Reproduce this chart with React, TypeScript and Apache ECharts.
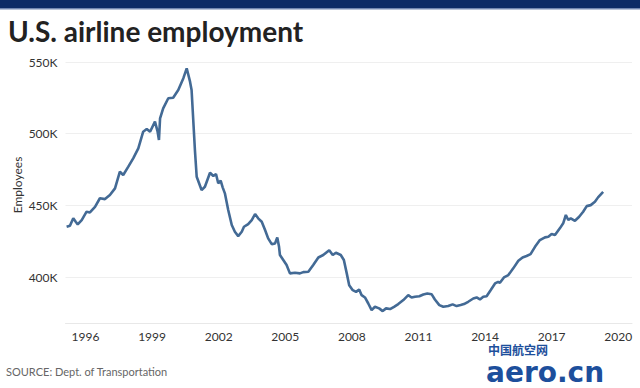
import React, { useEffect, useRef } from "react";
import * as echarts from "echarts";

const years: number[] = [
  1995.15, 1995.3, 1995.45, 1995.56, 1995.65, 1995.83, 1996.05, 1996.2, 1996.43, 1996.65,
  1996.88, 1997.1, 1997.33, 1997.55, 1997.7, 1997.93, 1998.15, 1998.38, 1998.6, 1998.76,
  1998.91, 1999.13, 1999.25, 1999.31, 1999.36, 1999.5, 1999.73, 1999.95, 2000.18, 2000.41,
  2000.56, 2000.71, 2000.78, 2000.93, 2001.01, 2001.23, 2001.38, 2001.61, 2001.76, 2001.88,
  2001.98, 2002.09, 2002.18, 2002.28, 2002.43, 2002.59, 2002.73, 2002.88, 2003.04, 2003.14,
  2003.33, 2003.49, 2003.64, 2003.78, 2003.94, 2004.09, 2004.23, 2004.39, 2004.54, 2004.64,
  2004.72, 2004.76, 2004.91, 2005.06, 2005.21, 2005.44, 2005.66, 2005.81, 2006.04, 2006.26,
  2006.49, 2006.71, 2006.98, 2007.14, 2007.28, 2007.5, 2007.64, 2007.77, 2007.88, 2008.04,
  2008.19, 2008.33, 2008.44, 2008.59, 2008.74, 2008.89, 2009.04, 2009.23, 2009.39, 2009.54,
  2009.72, 2009.9, 2010.09, 2010.32, 2010.54, 2010.69, 2010.84, 2011.04, 2011.22, 2011.4,
  2011.59, 2011.74, 2011.94, 2012.12, 2012.34, 2012.54, 2012.72, 2012.9, 2013.05, 2013.24,
  2013.47, 2013.62, 2013.77, 2013.92, 2014.07, 2014.25, 2014.45, 2014.59, 2014.67, 2014.85,
  2015.05, 2015.27, 2015.5, 2015.69, 2015.87, 2016.05, 2016.25, 2016.47, 2016.7, 2016.85,
  2017.0, 2017.15, 2017.37, 2017.52, 2017.64, 2017.75, 2017.86, 2018.05, 2018.24, 2018.42,
  2018.58, 2018.76, 2018.95, 2019.09, 2019.32,
];

const employeesK: number[] = [
  435.1, 435.8, 441.0, 438.6, 436.8, 439.8, 445.6, 445.1, 449.0, 455.0,
  454.4, 457.2, 461.9, 473.5, 471.2, 477.0, 482.8, 489.8, 501.4, 503.3,
  501.4, 508.4, 501.4, 495.6, 510.7, 517.7, 524.7, 525.1, 530.5, 538.7,
  545.6, 536.3, 530.5, 488.6, 470.0, 460.7, 463.0, 472.8, 470.5, 471.9,
  465.4, 467.2, 462.6, 458.4, 446.8, 436.3, 431.6, 428.6, 431.6, 435.1,
  437.0, 439.8, 444.0, 441.0, 438.6, 432.8, 427.0, 423.0, 423.5, 427.7,
  421.1, 415.4, 411.9, 408.4, 402.6, 403.0, 402.6, 403.5, 403.7, 408.4,
  413.7, 415.4, 418.8, 415.4, 417.0, 415.4, 411.9, 402.6, 394.4, 390.9,
  389.7, 391.4, 387.4, 385.8, 381.6, 377.0, 379.3, 378.2, 376.3, 378.2,
  377.7, 379.3, 381.2, 384.0, 387.4, 385.8, 386.3, 386.7, 387.9, 388.6,
  388.1, 384.4, 380.5, 379.3, 379.8, 381.0, 379.8, 380.5, 381.2, 382.8,
  385.1, 385.8, 384.4, 386.3, 386.7, 390.9, 395.6, 396.7, 396.0, 399.8,
  401.4, 406.1, 411.4, 413.7, 414.7, 416.0, 421.1, 425.8, 427.7, 428.1,
  430.0, 429.3, 434.0, 437.5, 443.3, 439.8, 441.0, 439.3, 442.1, 445.6,
  449.5, 450.2, 452.5, 455.6, 459.5,
];

const yTicks: number[] = [400, 450, 500, 550];
const xTicks: number[] = [1996, 1999, 2002, 2005, 2008, 2011, 2014, 2017, 2020];

const FONT = "Lato, 'Open Sans', sans-serif";

export default function App() {
  const ref = useRef<HTMLDivElement>(null);
  useEffect(() => {
    if (!ref.current) return;
    const chart = echarts.init(ref.current, undefined, { renderer: "svg" });
    const data = years.map((y, i) => [y, employeesK[i]]);
    chart.setOption({
      animation: false,
      backgroundColor: "#ffffff",
      grid: { left: 65.5, right: 8, top: 62, bottom: 65, containLabel: false },
      xAxis: {
        type: "value",
        min: 1995.1,
        max: 2020.62,
        axisLine: { show: true, lineStyle: { color: "#e8e8e8", width: 1 } },
        axisTick: { show: false },
        splitLine: { show: false },
        axisLabel: {
          customValues: xTicks,
          formatter: (v: number) => String(v),
          color: "#333",
          fontSize: 12,
          fontFamily: FONT,
          margin: 7,
        },
      },
      yAxis: {
        type: "value",
        min: 368,
        max: 550,
        axisLine: { show: false },
        axisTick: { show: false },
        splitLine: { show: false },
        axisLabel: {
          customValues: yTicks,
          formatter: (v: number) => `${v}K`,
          color: "#333",
          fontSize: 12,
          fontFamily: FONT,
          margin: 8,
        },
      },
      series: [
        {
          type: "line",
          data,
          showSymbol: false,
          lineStyle: { color: "#436a95", width: 2.6 },
          itemStyle: { color: "#436a95" },
          markLine: {
            silent: true,
            symbol: "none",
            label: { show: false },
            lineStyle: { color: "#efefef", type: "solid", width: 1 },
            data: yTicks.map((v) => ({ yAxis: v })),
            z: 0,
          },
          z: 5,
        },
      ],
      graphic: [
        { type: "rect", left: 0, top: 0, shape: { width: 640, height: 8 }, style: { fill: "#0b2b66" } },
        { type: "rect", left: 0, top: 8, shape: { width: 640, height: 1.5 }, style: { fill: "#6f86b0" } },
        {
          type: "text",
          left: 8,
          top: 17,
          style: { text: "U.S. airline employment", fill: "#222", font: `bold 28px ${FONT}` },
        },
        {
          type: "text",
          left: 6,
          top: 366,
          style: { text: "SOURCE: Dept. of Transportation", fill: "#666", font: `11px ${FONT}` },
        },
        {
          type: "text",
          x: 17,
          y: 185,
          rotation: Math.PI / 2,
          style: {
            text: "Employees",
            fill: "#333",
            font: `12px ${FONT}`,
            align: "center",
            verticalAlign: "middle",
          },
        },
        {
          type: "text",
          x: 488,
          y: 343,
          style: {
            text: "中国航空网",
            fill: "#1d4f9c",
            font: `bold 12px 'Noto Sans CJK SC', sans-serif`,
            lineHeight: 12,
            verticalAlign: "top",
          },
        },
        {
          type: "text",
          x: 486,
          y: 358,
          style: {
            text: "aero.cn",
            fill: "#1d4f9c",
            font: `bold 28px 'DejaVu Sans', sans-serif`,
            lineHeight: 28,
            verticalAlign: "top",
          },
        },
      ],
    });
    return () => chart.dispose();
  }, []);
  return <div ref={ref} style={{ width: 640, height: 388, position: "absolute", left: 0, top: 0 }} />;
}
